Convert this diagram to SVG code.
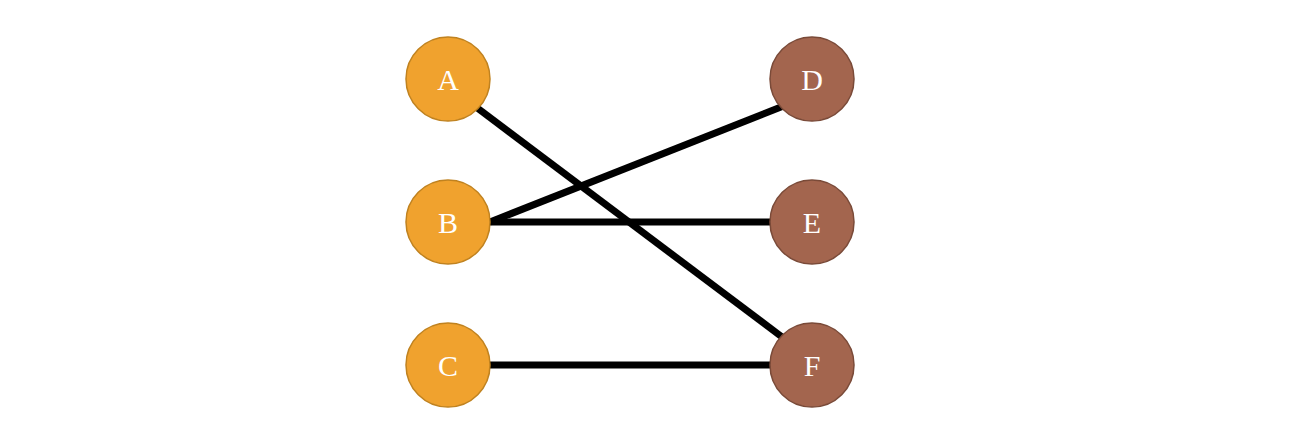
<svg xmlns="http://www.w3.org/2000/svg" width="1293" height="430" viewBox="0 0 1293 430">
<style>
.l{fill:#f0a22e;stroke:#c0821f;stroke-width:1.5}
.r{fill:#a3654e;stroke:#7a4a38;stroke-width:1.5}
.t{font-family:"Liberation Serif",serif;font-size:30px;fill:#fff;text-anchor:middle;dominant-baseline:central}
.e{stroke:#000;stroke-width:7;fill:none}
</style>
<rect width="1293" height="430" fill="#fff"/>
<g id="connectors">
<line class="e" x1="476" y1="107" x2="786" y2="340"/>
<line class="e" x1="490" y1="222" x2="786" y2="105"/>
<line class="e" x1="490" y1="222" x2="772" y2="222"/>
<line class="e" x1="490" y1="365" x2="772" y2="365"/>
</g>
<g id="A"><circle class="l" cx="448" cy="79" r="42"/><text class="t" x="448" y="79">A</text></g>
<g id="B"><circle class="l" cx="448" cy="222" r="42"/><text class="t" x="448" y="222">B</text></g>
<g id="C"><circle class="l" cx="448" cy="365" r="42"/><text class="t" x="448" y="365">C</text></g>
<g id="D"><circle class="r" cx="812" cy="79" r="42"/><text class="t" x="812" y="79">D</text></g>
<g id="E"><circle class="r" cx="812" cy="222" r="42"/><text class="t" x="812" y="222">E</text></g>
<g id="F"><circle class="r" cx="812" cy="365" r="42"/><text class="t" x="812" y="365">F</text></g>
</svg>
